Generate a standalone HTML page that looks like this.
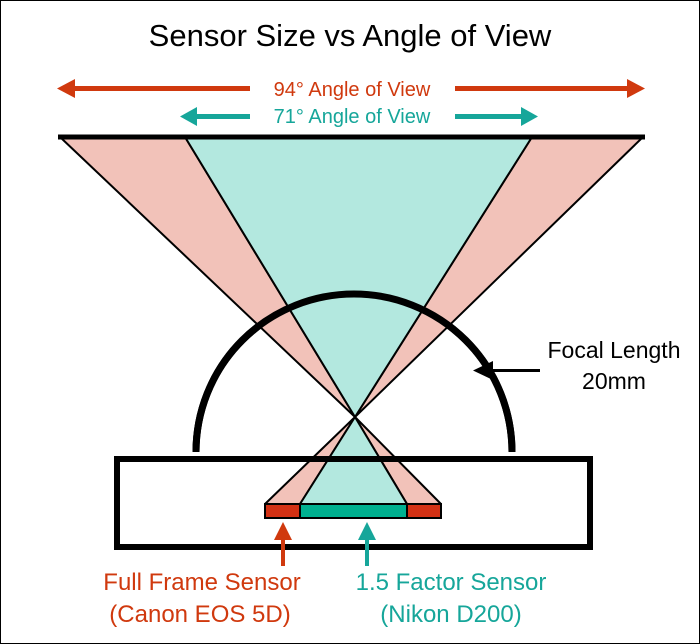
<!DOCTYPE html>
<html><head><style>
html,body{margin:0;padding:0;background:#fff}
svg{display:block}
text{font-family:"Liberation Sans",sans-serif}
</style></head><body>
<svg width="700" height="644" viewBox="0 0 700 644" xmlns="http://www.w3.org/2000/svg">
<rect x="0.5" y="0.5" width="699" height="643" fill="#fff" stroke="#000" stroke-width="1"/>
<text x="350" y="46" font-size="31" text-anchor="middle" fill="#000">Sensor Size vs Angle of View</text>
<g fill="#d0390e">
<rect x="68" y="86" width="182" height="5"/>
<rect x="455" y="86" width="180" height="5"/>
<polygon points="57,88.5 75,79 75,98"/>
<polygon points="645,88.5 627,79 627,98"/>
</g>
<text x="352" y="96" font-size="20" text-anchor="middle" fill="#d0390e">94° Angle of View</text>
<g fill="#16a69a">
<rect x="192" y="114" width="58" height="5"/>
<rect x="455" y="114" width="72" height="5"/>
<polygon points="180,116.5 197,107 197,126"/>
<polygon points="538,116.5 521,107 521,126"/>
</g>
<text x="352" y="123" font-size="20" text-anchor="middle" fill="#16a69a">71° Angle of View</text>
<path d="M196,452 A158,158 0 0 1 512,452" fill="#fff" stroke="#000" stroke-width="7"/>
<rect x="117" y="459" width="473" height="88" fill="#fff" stroke="#000" stroke-width="6"/>
<g stroke="#000" stroke-width="2" stroke-linejoin="round">
<polygon points="60,137 185,137 355,417" fill="#f2c2b9"/>
<polygon points="532,137 643,137 355,417" fill="#f2c2b9"/>
<polygon points="185,137 532,137 355,417" fill="#b3e8df"/>
<polygon points="355,417 265,504 300,504" fill="#f2c2b9"/>
<polygon points="355,417 407,504 441,504" fill="#f2c2b9"/>
<polygon points="355,417 300,504 407,504" fill="#b3e8df"/>
</g>
<line x1="58" y1="137" x2="645" y2="137" stroke="#000" stroke-width="5"/>
<path d="M196,452 A158,158 0 0 1 512,452" fill="none" stroke="#000" stroke-width="7"/>
<line x1="117" y1="459" x2="590" y2="459" stroke="#000" stroke-width="6"/>
<g stroke="#000" stroke-width="2">
<rect x="265" y="504" width="35" height="14" fill="#d33114"/>
<rect x="300" y="504" width="107" height="14" fill="#00b090"/>
<rect x="407" y="504" width="34" height="14" fill="#d33114"/>
</g>
<rect x="281" y="535" width="4" height="31" fill="#d0390e"/>
<polygon points="283,522 274,540 292,540" fill="#d0390e"/>
<rect x="365" y="535" width="4" height="31" fill="#16a69a"/>
<polygon points="367,522 358,540 376,540" fill="#16a69a"/>
<text x="202" y="590" font-size="24" text-anchor="middle" fill="#d0390e">Full Frame Sensor</text>
<text x="200" y="622" font-size="24" text-anchor="middle" fill="#d0390e">(Canon EOS 5D)</text>
<text x="451" y="590" font-size="24" text-anchor="middle" fill="#16a69a">1.5 Factor Sensor</text>
<text x="451" y="622" font-size="24" text-anchor="middle" fill="#16a69a">(Nikon D200)</text>
<text x="614" y="358" font-size="23" text-anchor="middle" fill="#000">Focal Length</text>
<text x="614" y="389" font-size="23" text-anchor="middle" fill="#000">20mm</text>
<rect x="490" y="369" width="50" height="3" fill="#000"/>
<polygon points="473,370.5 493,361 493,380" fill="#000"/>
</svg>
</body></html>
